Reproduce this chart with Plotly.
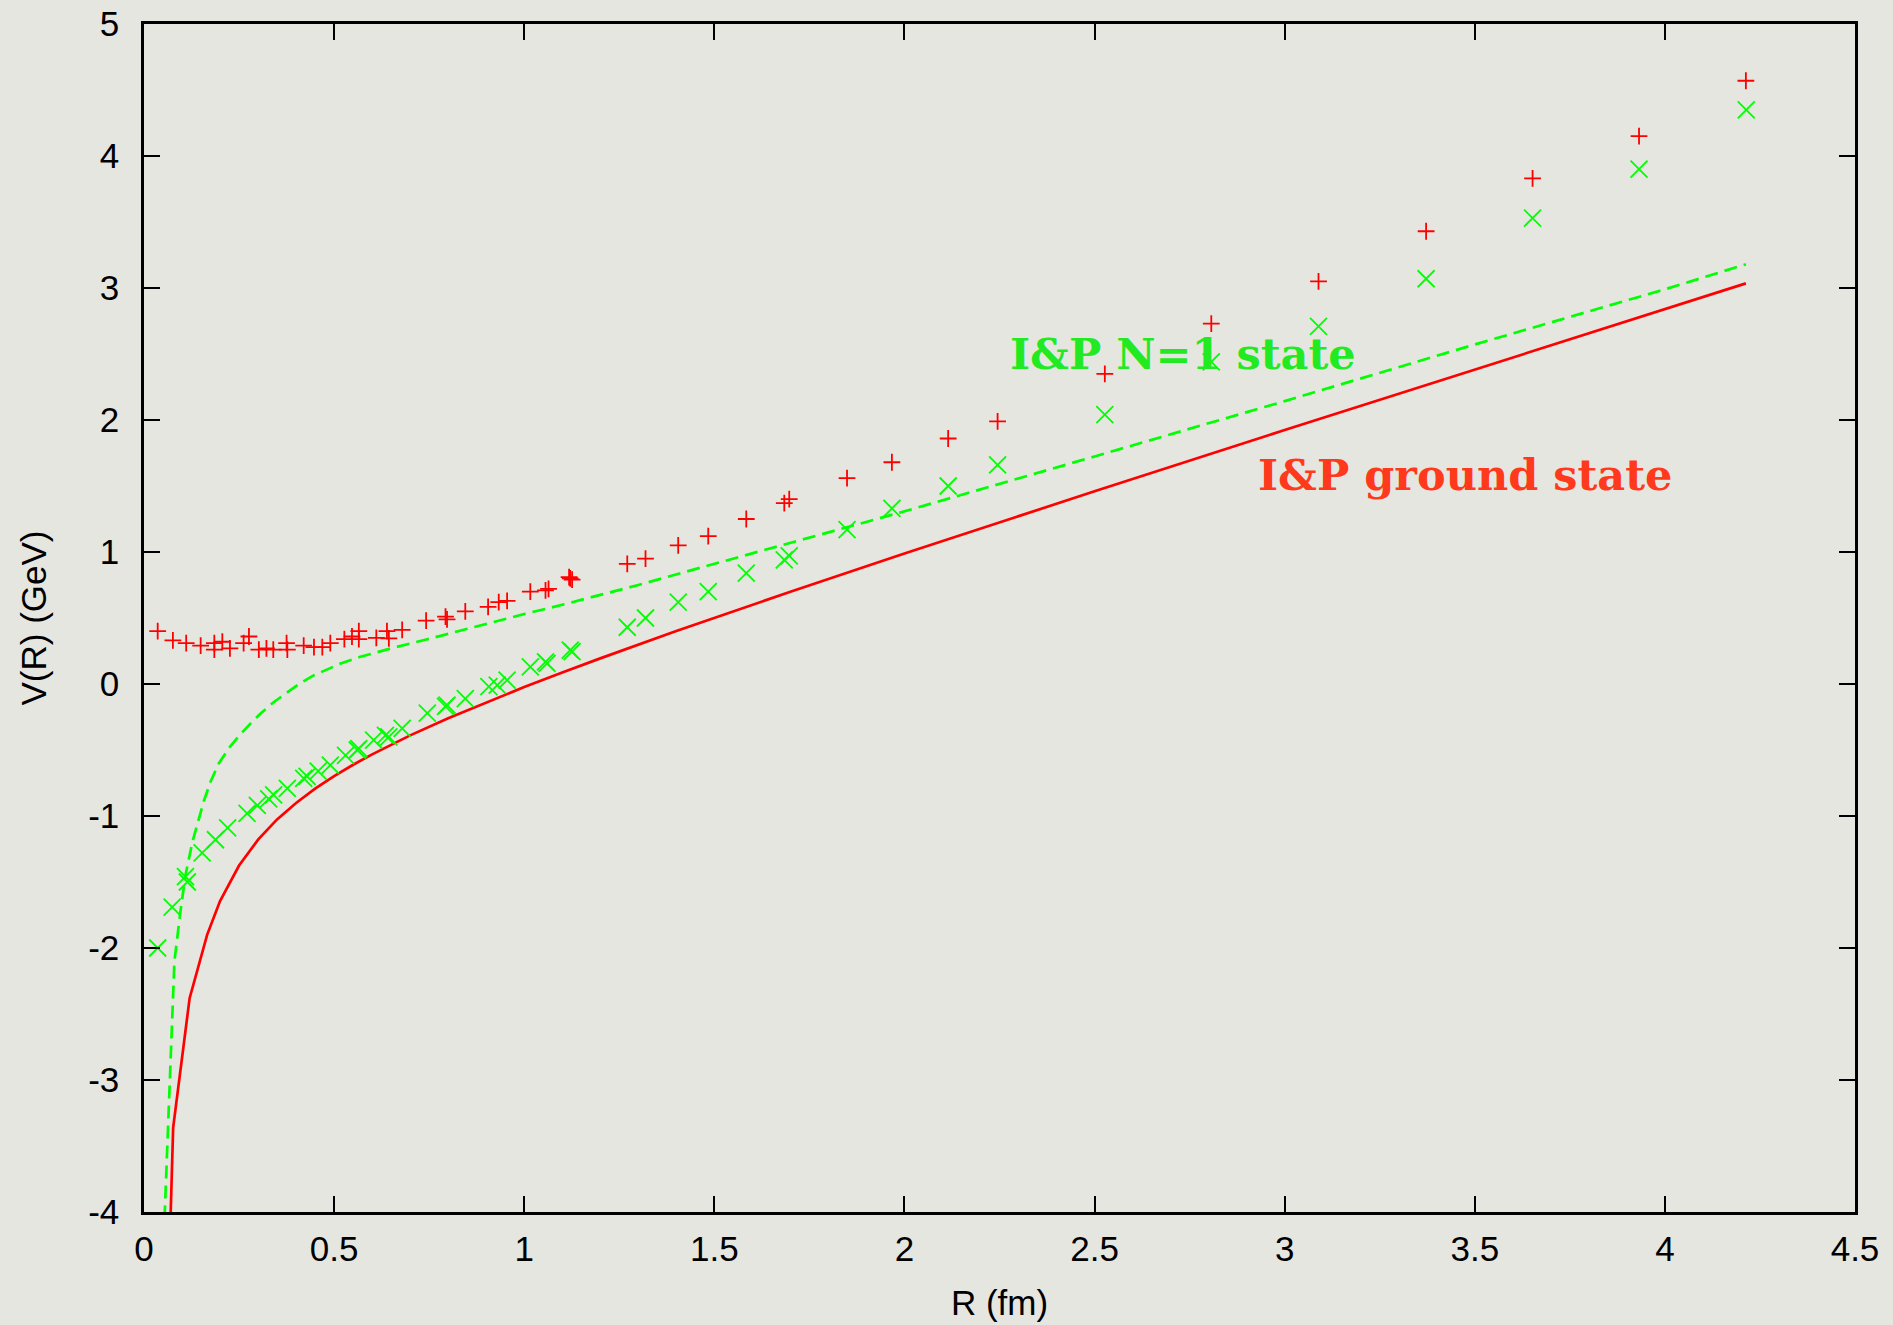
import plotly.graph_objects as go

# Lattice static potential: ground state (+) and first excited N=1 state (x)
r_ground = [0.036, 0.076, 0.111, 0.149, 0.185, 0.185, 0.206, 0.226, 0.262, 0.276,
            0.302, 0.322, 0.340, 0.375, 0.377, 0.420, 0.447, 0.469, 0.490, 0.527,
            0.547, 0.565, 0.565, 0.611, 0.639, 0.644, 0.679, 0.742, 0.793, 0.797,
            0.845, 0.905, 0.933, 0.955, 1.016, 1.056, 1.064, 1.118, 1.121, 1.126,
            1.271, 1.319, 1.405, 1.484, 1.584, 1.684, 1.697, 1.849, 1.967, 2.115,
            2.245, 2.527, 2.807, 3.089, 3.372, 3.652, 3.932, 4.213]
v_ground = [0.40, 0.33, 0.31, 0.29, 0.31, 0.26, 0.32, 0.27, 0.31, 0.36,
            0.26, 0.27, 0.26, 0.31, 0.26, 0.29, 0.28, 0.28, 0.31, 0.34,
            0.36, 0.40, 0.34, 0.35, 0.40, 0.345, 0.41, 0.48, 0.51, 0.49,
            0.55, 0.585, 0.62, 0.63, 0.70, 0.71, 0.72, 0.81, 0.80, 0.79,
            0.91, 0.95, 1.05, 1.12, 1.25, 1.37, 1.40, 1.56, 1.68, 1.86,
            1.99, 2.35, 2.73, 3.05, 3.43, 3.83, 4.15, 4.57]

r_excited = [0.036, 0.074, 0.109, 0.114, 0.153, 0.188, 0.220, 0.271, 0.298, 0.328,
             0.341, 0.377, 0.420, 0.429, 0.458, 0.490, 0.530, 0.561, 0.565, 0.604,
             0.635, 0.644, 0.679, 0.745, 0.793, 0.797, 0.845, 0.907, 0.929, 0.955,
             1.016, 1.056, 1.060, 1.121, 1.126, 1.271, 1.319, 1.405, 1.484, 1.584,
             1.684, 1.697, 1.849, 1.967, 2.115, 2.245, 2.527, 2.807, 3.089, 3.372,
             3.652, 3.932, 4.214]
v_excited = [-2.00, -1.69, -1.46, -1.50, -1.28, -1.18, -1.09, -0.98, -0.92, -0.87,
             -0.84, -0.79, -0.715, -0.70, -0.66, -0.615, -0.54, -0.50, -0.49, -0.425,
             -0.39, -0.40, -0.336, -0.22, -0.17, -0.16, -0.11, -0.02, -0.008, 0.03,
             0.13, 0.168, 0.156, 0.257, 0.245, 0.43, 0.50, 0.62, 0.70, 0.84,
             0.94, 0.97, 1.17, 1.33, 1.50, 1.66, 2.04, 2.44, 2.71, 3.07,
             3.53, 3.90, 4.35]

# Isgur & Paton model curves
r_ip_ground = [0.030, 0.0767, 0.120, 0.166, 0.200, 0.250, 0.300, 0.350, 0.400, 0.450,
               0.500, 0.550, 0.600, 0.700, 0.800, 0.900, 1.000, 1.100, 1.200, 1.400,
               1.700, 2.000, 2.500, 3.000, 3.500, 4.000, 4.213]
v_ip_ground = [-8.0, -3.36, -2.38, -1.90, -1.645, -1.375, -1.179, -1.026, -0.901, -0.793,
               -0.698, -0.612, -0.533, -0.389, -0.259, -0.138, -0.023, 0.087, 0.194, 0.401,
               0.699, 0.988, 1.46, 1.924, 2.383, 2.84, 3.035]

r_ip_n1 = [0.052, 0.066, 0.080, 0.096, 0.109, 0.127, 0.157, 0.175, 0.197, 0.225,
           0.254, 0.280, 0.306, 0.340, 0.377, 0.410, 0.446, 0.480, 0.517, 0.569,
           0.650, 0.740, 0.806, 0.900, 1.000, 1.100, 1.174, 1.300, 1.419, 1.600,
           1.849, 1.989, 2.500, 3.000, 3.500, 4.000, 4.213]
v_ip_n1 = [-4.2, -3.10, -2.10, -1.72, -1.45, -1.20, -0.89, -0.74, -0.60, -0.48,
           -0.38, -0.30, -0.225, -0.14, -0.06, 0.005, 0.065, 0.11, 0.155, 0.206,
           0.27, 0.335, 0.385, 0.455, 0.53, 0.60, 0.656, 0.75, 0.846, 0.988,
           1.186, 1.299, 1.724, 2.143, 2.572, 2.99, 3.18]

x_ticks = [0, 0.5, 1, 1.5, 2, 2.5, 3, 3.5, 4, 4.5]
y_ticks = [-4, -3, -2, -1, 0, 1, 2, 3, 4, 5]

RED = "#ff0000"
GREEN = "#00ff00"
BG = "#e6e6e1"
FONT = "Liberation Sans, Arial, sans-serif"

fig = go.Figure()

fig.add_trace(go.Scatter(
    x=r_ip_ground, y=v_ip_ground, mode="lines",
    line=dict(color=RED, width=2.7), name="I&P ground state"))
fig.add_trace(go.Scatter(
    x=r_ip_n1, y=v_ip_n1, mode="lines",
    line=dict(color=GREEN, width=2.7, dash="13px,7px"), name="I&P N=1 state"))
fig.add_trace(go.Scatter(
    x=r_ground, y=v_ground, mode="markers",
    marker=dict(symbol="cross-thin", size=12, line=dict(color=RED, width=1.8)),
    name="ground state"))
fig.add_trace(go.Scatter(
    x=r_excited, y=v_excited, mode="markers",
    marker=dict(symbol="x-thin", size=17, line=dict(color=GREEN, width=1.8)),
    name="N=1 state"))

label_font = "DejaVu Serif, serif"
fig.add_annotation(x=2.733, y=2.50, xref="x", yref="y", text="<b>I&amp;P N=1 state</b>",
                   showarrow=False, font=dict(family=label_font, size=43, color="#22ea22"))
fig.add_annotation(x=3.475, y=1.58, xref="x", yref="y", text="<b>I&amp;P ground state</b>",
                   showarrow=False, font=dict(family=label_font, size=43, color="#ff3a1c"))

axis_common = dict(
    showgrid=False, zeroline=False, automargin=False,
    showline=True, linecolor="black", linewidth=2.5, mirror="ticks",
    ticks="inside", ticklen=16, tickwidth=2, tickcolor="black",
    tickfont=dict(family=FONT, size=35, color="black"),
)

fig.update_xaxes(
    range=[0, 4.5], tickvals=x_ticks, ticktext=[f"{v:g}" for v in x_ticks],
    title=dict(text="R (fm)", font=dict(family=FONT, size=35, color="black"), standoff=24),
    ticklabelstandoff=4, **axis_common)
fig.update_yaxes(
    range=[-4, 5], tickvals=y_ticks, ticktext=[f"{v:g}" for v in y_ticks],
    title=dict(text="V(R) (GeV)", font=dict(family=FONT, size=35, color="black"), standoff=31),
    ticklabelstandoff=15, **axis_common)

fig.update_layout(
    width=1893, height=1325,
    margin=dict(l=144, r=38, t=24, b=113),
    paper_bgcolor=BG, plot_bgcolor=BG,
    showlegend=False,
)

fig.write_html("out.html")
